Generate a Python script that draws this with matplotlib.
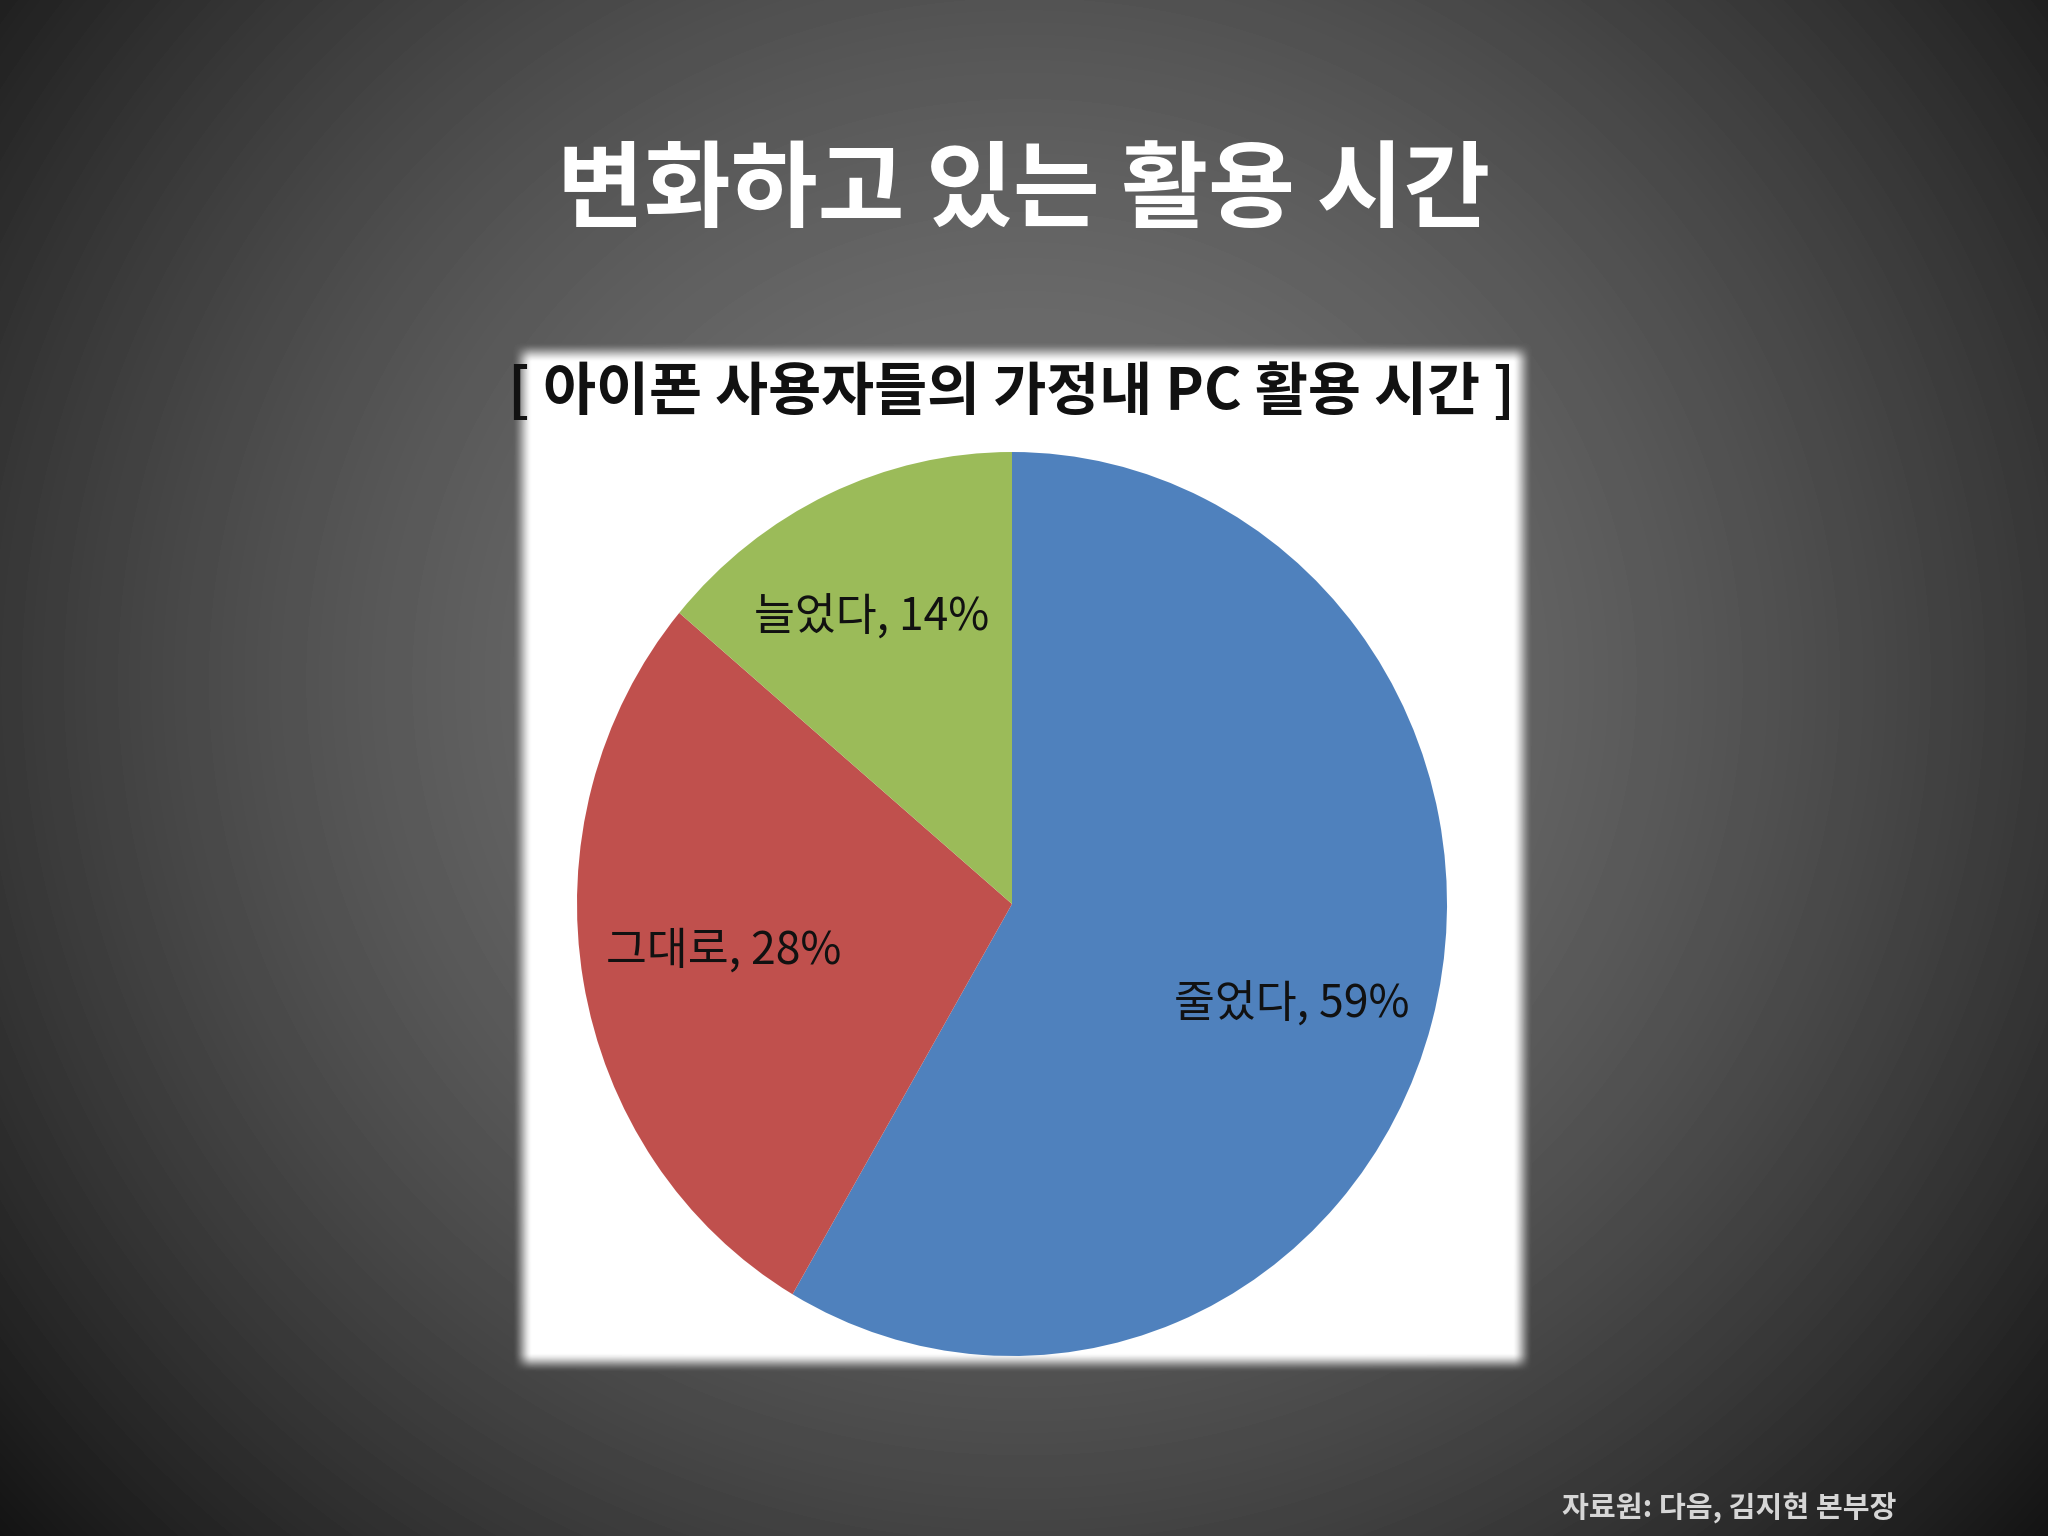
import numpy as np
import matplotlib.pyplot as plt

plt.rcParams['font.family'] = ['Noto Sans CJK KR', 'DejaVu Sans']

# 데이터
title = '변화하고 있는 활용 시간'
chart_title = '[ 아이폰 사용자들의 가정내 PC 활용 시간 ]'
source = '자료원: 다음, 김지현 본부장'
categories = ['줄었다', '그대로', '늘었다']
shares = [59, 28, 14]
colors = ['#4F81BD', '#C0504D', '#9BBB59']

W, H = 2048, 1536
fig = plt.figure(figsize=(W / 100, H / 100), dpi=100)

# 배경: 방사형 그라데이션 + 흰색 패널 (가장자리 흐림)
bg = fig.add_axes([0, 0, 1, 1])
bg.axis('off')
yy, xx = np.mgrid[0:H, 0:W].astype(float)
d = np.hypot((xx - 1024) * 0.95, yy - 680)
shade = np.clip(118 * (1 - (d / 1450) ** 1.6), 8, 255) / 255


def ramp(t):
    t = np.clip(t, 0, 1)
    return t * t * (3 - 2 * t)


panel = (ramp((xx - 512) / 20) * ramp((1532 - xx) / 20)
         * ramp((yy - 342) / 20) * ramp((1372 - yy) / 20))
img = shade * (1 - panel) + panel
bg.imshow(img, cmap='gray', vmin=0, vmax=1, extent=(0, W, H, 0),
          aspect='auto', interpolation='bilinear')
bg.set_xlim(0, W)
bg.set_ylim(H, 0)

# 파이 차트
cx, cy, rx, ry = 1012, 904, 435, 452
ax = fig.add_axes([(cx - rx) / W, (H - cy - ry) / H, 2 * rx / W, 2 * ry / H])
labels = [f'{c}, {s}%' for c, s in zip(categories, shares)]
wedges, texts = ax.pie(shares, labels=labels, colors=colors, startangle=90,
                       counterclock=False, labeldistance=0.67,
                       wedgeprops=dict(linewidth=0),
                       textprops=dict(fontsize=32, color='#111111'))
# 라벨 위치 (쐐기 중심각 기준, 약간 보정)
label_r = [0.68, 0.67, 0.71]
label_turn = [-4, -1, 2]
for w, t, r, dt in zip(wedges, texts, label_r, label_turn):
    ang = np.deg2rad((w.theta1 + w.theta2) / 2 + dt)
    t.set_position((r * np.cos(ang), r * np.sin(ang)))
    t.set_ha('center')
    t.set_va('center')
ax.set_aspect('auto')
ax.set_xlim(-1, 1)
ax.set_ylim(-1, 1)

# 텍스트
fig.text(1024 / W, 1 - 192 / H, title, ha='center', va='center',
         fontsize=68, fontweight='bold', color='white')
fig.text(1011 / W, 1 - 393 / H, chart_title, ha='center', va='center',
         fontsize=41.5, fontweight='bold', color='#111111')
fig.text(1729 / W, 1 - 1508 / H, source, ha='center', va='center',
         fontsize=21, fontweight='bold', color='#d6d6d6')

fig.savefig('out.png', dpi=100)
